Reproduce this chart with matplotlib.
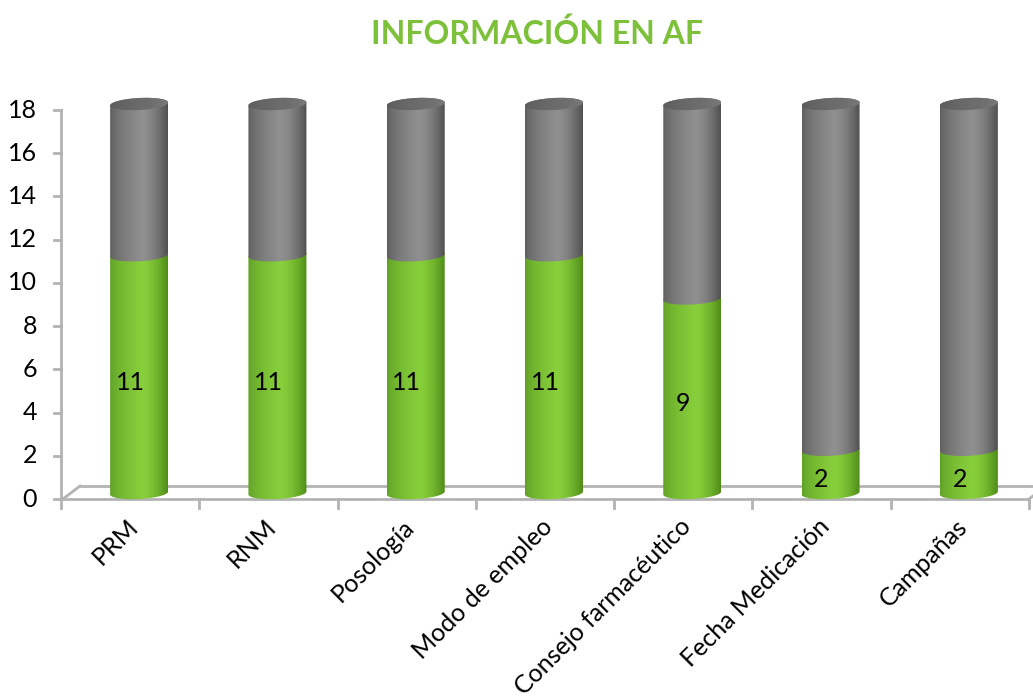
import numpy as np
import matplotlib
matplotlib.use("Agg")
import matplotlib.pyplot as plt
from matplotlib.path import Path
from matplotlib.patches import PathPatch
from matplotlib.colors import to_rgb

# ---- data ----
categories = ["PRM", "RNM", "Posología", "Modo de empleo",
              "Consejo farmacéutico", "Fecha Medicación", "Campañas"]
si_values = [11, 11, 11, 11, 9, 2, 2]
total = 18
no_values = [total - v for v in si_values]
yticks = list(range(0, 19, 2))

FONT = ["Lato", "DejaVu Sans"]
W, H = 1033, 698
fig = plt.figure(figsize=(W / 100, H / 100), dpi=100)

# pixel positions of the value axis (x) and of 0 / 18 (y)
x_left, x_right, y_zero, y_top = 61, 1029, 499, 110
xmin, xmax = -0.5, len(categories) - 0.5
ppu = (y_zero - y_top) / 18.0          # pixels per value unit
ymin, ymax = -4.0, 20.0                # room for the caps above 18
ax = fig.add_axes([x_left / W, 1 - (y_zero + (-ymin) * ppu) / H,
                   (x_right - x_left) / W, (ymax - ymin) * ppu / H])
ax.set_xlim(xmin, xmax)
ax.set_ylim(ymin, ymax)
ax.axis("off")

# pixel -> data scale factors
px_x = (xmax - xmin) / (x_right - x_left)
px_y = 1.0 / ppu

# 3D depth offset of the bars and cylinder geometry
depth_dx, depth_dy = 9 * px_x, 6 * px_y
half_w = 29 * px_x
ell_b = 6 * px_y
tilt = 1.5 * px_y / (29 * px_x)   # right side of ellipses slightly higher


def arc(xc, yc, lower=True, n=60):
    t = np.linspace(np.pi, 2 * np.pi, n) if lower else np.linspace(0, np.pi, n)
    xs = xc + half_w * np.cos(t)
    ys = yc + ell_b * np.sin(t) + tilt * (xs - xc)
    return xs, ys


def gradient_row(edge_l, peak, edge_r, n=200):
    pos = np.linspace(0, 1, n)
    c_l, c_p, c_r = map(np.array, map(to_rgb, (edge_l, peak, edge_r)))
    out = np.empty((1, n, 3))
    for k, p in enumerate(pos):
        if p < 0.55:
            f = (p / 0.55) ** 0.6
            out[0, k] = c_l + (c_p - c_l) * f
        else:
            f = ((p - 0.55) / 0.45) ** 1.6
            out[0, k] = c_p + (c_r - c_p) * f
    return out


def segment(xc, y0, y1, colors, top_cap=None):
    bx, by = arc(xc, y0, lower=True)
    tx, ty = arc(xc, y1, lower=False)
    verts = np.vstack([np.column_stack([bx, by]), np.column_stack([tx, ty]),
                       [[bx[0], by[0]]]])
    codes = [Path.MOVETO] + [Path.LINETO] * (len(verts) - 2) + [Path.CLOSEPOLY]
    patch = PathPatch(Path(verts, codes), facecolor="none", edgecolor="none")
    ax.add_patch(patch)
    im = ax.imshow(gradient_row(*colors), extent=[xc - half_w, xc + half_w,
                   y0 - 2 * ell_b, y1 + 2 * ell_b], aspect="auto",
                   interpolation="bilinear", zorder=2)
    im.set_clip_path(patch)
    if top_cap is not None:
        t = np.linspace(0, 2 * np.pi, 120)
        cx = xc + half_w * np.cos(t)
        cy = y1 + ell_b * np.sin(t) + tilt * (cx - xc)
        cap = PathPatch(Path(np.column_stack([cx, cy])), facecolor="none",
                        edgecolor="none")
        ax.add_patch(cap)
        im2 = ax.imshow(gradient_row(*top_cap), extent=[xc - half_w, xc + half_w,
                        y1 - 2 * ell_b, y1 + 2 * ell_b], aspect="auto",
                        interpolation="bilinear", zorder=3)
        im2.set_clip_path(cap)


green = ("#5e9e24", "#88cf3c", "#4f8c18")
gray = ("#5c5c5c", "#909090", "#505050")
cap_gray = ("#5a5a5a", "#6c6c6c", "#7a7a7a")

# floor
line_kw = dict(color="#b3b3b3", lw=2, clip_on=False, zorder=1)
fx0, fx1 = xmin + 2 * px_x, xmax
ax.plot([fx0, fx1], [0, 0], **line_kw)
ax.plot([fx0 + 17 * px_x, fx1 + 17 * px_x], [13 * px_y] * 2, **line_kw)
ax.plot([fx0, fx0 + 17 * px_x], [0, 13 * px_y], **line_kw)
ax.plot([fx1, fx1 + 17 * px_x], [0, 13 * px_y], **line_kw)
# category ticks
for k in range(len(categories) + 1):
    x = xmin + k
    ax.plot([x, x], [0, -9 * px_y], **line_kw)
# value axis
ax.plot([xmin, xmin], [0, 18], **line_kw)
for v in yticks:
    ax.plot([xmin - 7 * px_x, xmin], [v, v], **line_kw)
    ax.text(xmin - 24 * px_x, v, str(v), ha="right", va="center",
            fontsize=18, family=FONT, color="#000000")

# cylinders
for i, (si, no) in enumerate(zip(si_values, no_values)):
    xc = i + depth_dx
    segment(xc, depth_dy, si + depth_dy, green)
    segment(xc, si + depth_dy, si + no + depth_dy, gray, top_cap=cap_gray)
    ax.text(i, si / 2 - 0.1, str(si), ha="center", va="center",
            fontsize=18, family=FONT, color="#000000", zorder=5)

# category labels
for i, name in enumerate(categories):
    ax.text(i + 4 * px_x, -24 * px_y, name, rotation=45, rotation_mode="anchor",
            ha="right", va="center", fontsize=18, family=FONT, color="#000000")

fig.text(537 / W, 1 - 34 / H, "INFORMACIÓN EN AF", ha="center", va="center",
         fontsize=23, fontweight="bold", family=FONT, color="#7dc03a")

fig.savefig("out.png", dpi=100)
